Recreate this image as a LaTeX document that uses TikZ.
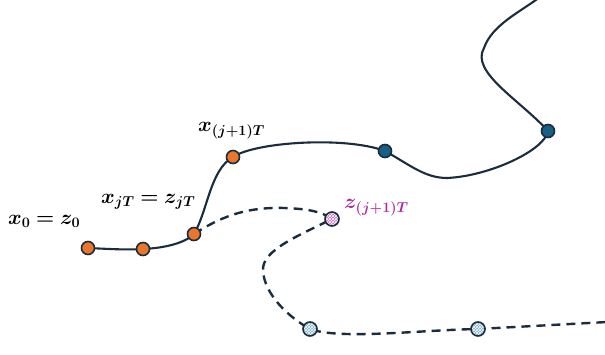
\documentclass[tikz,border=0pt]{standalone}
\usepackage{amsmath,bm}
\usetikzlibrary{patterns}
\definecolor{linec}{RGB}{27,45,60}
\definecolor{orangef}{RGB}{234,118,44}
\definecolor{bluef}{RGB}{22,96,134}
\definecolor{pinkf}{RGB}{205,110,195}
\definecolor{lbluef}{RGB}{120,175,200}
\definecolor{purp}{RGB}{176,40,160}
\tikzset{
  pt/.style={circle,draw=linec,line width=1.6pt,minimum size=13pt,inner sep=0pt},
  opt/.style={pt,fill=orangef},
  bpt/.style={pt,fill=bluef},
  ppt/.style={pt,minimum size=14pt,preaction={fill=pinkf},pattern=crosshatch,pattern color=white},
  lpt/.style={pt,minimum size=14pt,preaction={fill=lbluef},pattern=crosshatch,pattern color=white},
  traj/.style={draw=linec,line width=2.1pt},
  dtraj/.style={draw=linec,line width=2.4pt,dash pattern=on 9pt off 6pt},
  lab/.style={inner sep=0pt,font=\fontsize{21.5}{26}\selectfont}
}
\begin{document}
\begin{tikzpicture}[x=1pt,y=-1pt]
\useasboundingbox (0,0) rectangle (605,354);
% coordinates
\coordinate (top) at (540,-3);
\coordinate (turn) at (484,48);
\coordinate (bot) at (447,178);
\coordinate (dtop) at (285,208);
\coordinate (dleft) at (263,270);
\coordinate (dend) at (607,322);
% solid trajectory
\path[traj] (88,248) .. controls (110,249) and (125,250) .. (143,249)
  .. controls (165,248) and (185,243) .. (194,234)
  .. controls (208,210) and (210,170) .. (233,157)
  .. controls (255,142) and (345,136) .. (385,151)
  .. controls (410,165) and (425,178) .. (bot)
  .. controls (490,176) and (545,150) .. (548,131)
  .. controls (520,100) and (470,72) .. (turn)
  .. controls (492,25) and (520,12) .. (top);
% dashed trajectory
\path[dtraj] (194,234) .. controls (225,214) and (250,207) .. (dtop)
  .. controls (310,209) and (322,212) .. (332,219)
  .. controls (300,235) and (262,250) .. (dleft)
  .. controls (264,295) and (290,318) .. (310,329)
  .. controls (340,340) and (420,330) .. (478,329)
  -- (dend);
% points
\node[opt] (o1) at (88,248) {};
\node[opt] (o2) at (143,249) {};
\node[opt] (o3) at (194,234) {};
\node[opt] (o4) at (233,157) {};
\node[bpt] (b1) at (385,151) {};
\node[bpt] (b2) at (548,131) {};
\node[ppt] (p1) at (332,219) {};
\node[lpt] (q1) at (310,329) {};
\node[lpt] (q2) at (478,329) {};
% labels
\node[lab,anchor=west] (l1) at (8,221) {$\boldsymbol{x_0 = z_0}$};
\node[lab,anchor=west] (l2) at (101,202) {$\boldsymbol{x_{jT} = z_{jT}}$};
\node[lab,anchor=west] (l3) at (198,131) {$\boldsymbol{x_{(j+1)T}}$};
\node[lab,anchor=west,text=purp] (l4) at (344,208) {$\boldsymbol{z_{(j+1)T}}$};
\end{tikzpicture}
\end{document}
